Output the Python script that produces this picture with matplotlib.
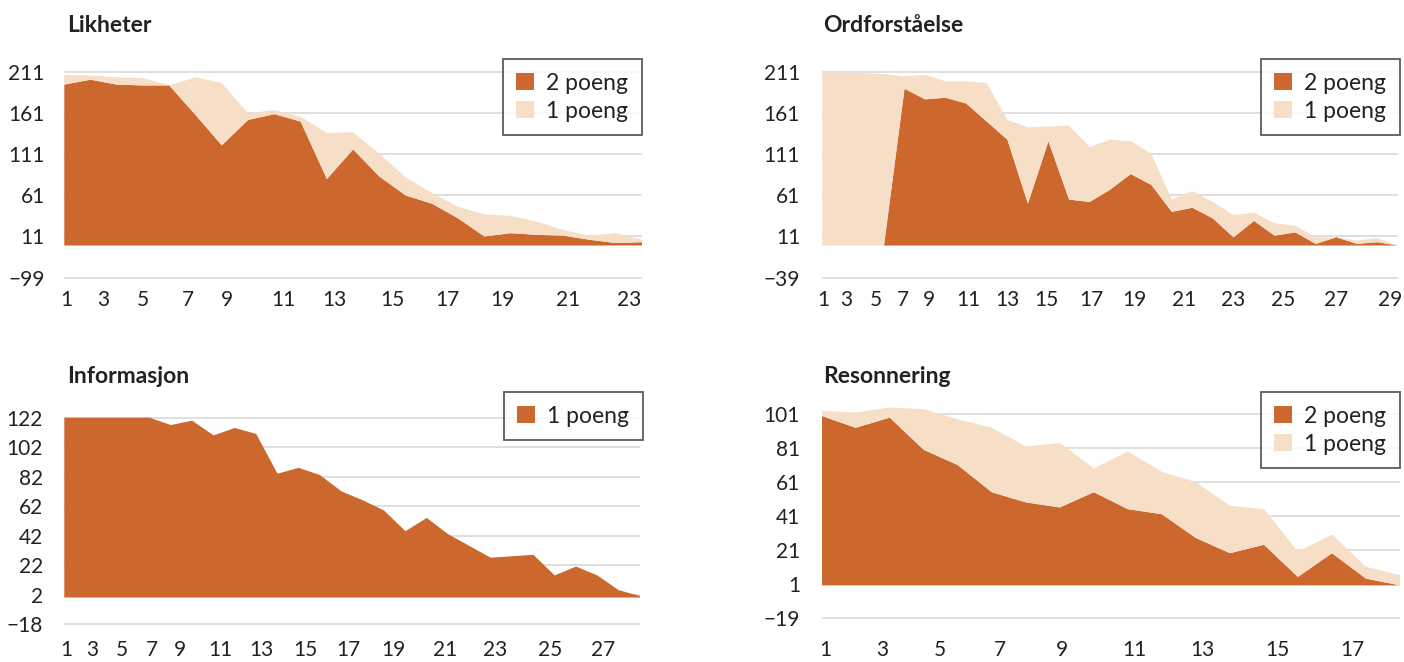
import matplotlib.pyplot as plt
import numpy as np

plt.rcParams['font.family'] = ['Lato', 'DejaVu Sans']

DARK = '#CC672D'
LIGHT = '#F7DEC7'
GRID = '#dcdcdc'
TXT = '#222222'

# Likheter (23 oppgaver)
lik_2p = [196, 202, 196, 195, 195, 159, 122, 153, 160, 151, 81, 117, 84, 61, 51, 33, 11, 15, 13, 12, 7, 3, 4]
lik_1p = [12, 5, 9, 9, 0, 46, 76, 8, 5, 6, 56, 21, 28, 22, 13, 14, 27, 21, 16, 7, 5, 12, 3]
lik_yticks = [211, 161, 111, 61, 11, -39]
lik_ylabels = ['211', '161', '111', '61', '11', '−99']
lik_xlabels = [str(i) for i in range(1, 24, 2)]

# Ordforståelse (29 oppgaver)
ord_2p = [0, 0, 0, 0, 191, 178, 180, 173, 151, 129, 51, 127, 56, 53, 68, 87, 74, 41, 46, 33, 10, 30, 12, 16, 2, 10, 2, 4, 0]
ord_1p = [211, 211, 210, 209, 15, 30, 20, 27, 47, 24, 93, 18, 90, 67, 61, 40, 38, 15, 20, 20, 27, 10, 15, 8, 8, 0, 4, 5, 0]
ord_yticks = [211, 161, 111, 61, 11, -39]
ord_ylabels = ['211', '161', '111', '61', '11', '−39']
ord_xlabels = [str(i) for i in range(1, 30, 2)]

# Informasjon (28 oppgaver)
inf_1p = [122, 122, 122, 122, 122, 117, 120, 110, 115, 111, 84, 88, 83, 72, 66, 59, 45, 54, 43, 35, 27, 28, 29, 15, 21, 15, 5, 1]
inf_yticks = [122, 102, 82, 62, 42, 22, 2, -18]
inf_ylabels = ['122', '102', '82', '62', '42', '22', '2', '−18']
inf_xlabels = [str(i) for i in range(1, 28, 2)]

# Resonnering (18 oppgaver)
res_2p = [100, 93, 99, 80, 71, 55, 49, 46, 55, 45, 42, 28, 19, 24, 5, 19, 4, 0]
res_1p = [3, 9, 6, 24, 27, 38, 33, 38, 14, 34, 25, 33, 28, 21, 15, 11, 7, 6]
res_yticks = [101, 81, 61, 41, 21, 1, -19]
res_ylabels = ['101', '81', '61', '41', '21', '1', '−19']
res_xlabels = [str(i) for i in range(1, 18, 2)]

# plassering av x-etikettene (som i originalen, ikke helt under punktene)
lik_xpos = [1.06, 2.47, 4.0, 5.7, 7.2, 9.33, 11.27, 13.5, 15.6, 17.7, 20.2, 22.5]
ord_xpos = [1.05, 2.15, 3.6, 4.9, 6.2, 8.1, 10.0, 11.9, 14.1, 16.2, 18.6, 21.0, 23.4, 26.0, 28.6]
inf_xpos = [1.08, 2.29, 3.69, 5.1, 6.43, 8.3, 10.26, 12.29, 14.32, 16.43, 18.85, 21.2, 23.78, 26.28]
res_xpos = [1.1, 2.77, 4.48, 6.24, 8.05, 10.2, 12.2, 14.4, 16.6]

W, H = 1404, 662
fig = plt.figure(figsize=(W / 100, H / 100), dpi=100)


def make_ax(x0, x1, y0, y1):
    return fig.add_axes([x0 / W, 1 - y1 / H, (x1 - x0) / W, (y1 - y0) / H])


def style(ax, n, ylim, yticks, ylabels, xpos, xlabels, xpad, ypad):
    ax.set_xlim(1, n)
    ax.set_ylim(*ylim)
    ax.set_yticks(yticks)
    ax.set_yticklabels(ylabels)
    ax.set_xticks(xpos)
    ax.set_xticklabels(xlabels)
    for s in ax.spines.values():
        s.set_visible(False)
    ax.tick_params(axis='both', length=0, labelsize=15, colors=TXT)
    ax.tick_params(axis='x', pad=xpad)
    ax.tick_params(axis='y', pad=ypad)
    ax.set_axisbelow(True)
    ax.grid(axis='y', color=GRID, linewidth=1.3)
    ax.grid(axis='x', visible=False)


def legend(ax, x_right, y_top):
    leg = ax.legend(loc='upper right', bbox_to_anchor=(x_right / W, 1 - y_top / H),
                    bbox_transform=fig.transFigure, borderaxespad=0,
                    fontsize=16.5, frameon=True, fancybox=False, edgecolor='#333333',
                    handlelength=0.75, handleheight=0.75, handletextpad=0.55,
                    labelspacing=0.3, borderpad=0.6)
    leg.get_frame().set_linewidth(1.3)
    for t in leg.get_texts():
        t.set_color(TXT)


# Likheter
ax1 = make_ax(64.3, 642, 60, 280)
x = np.arange(1, len(lik_2p) + 1)
ax1.stackplot(x, lik_2p, lik_1p, colors=[DARK, LIGHT], labels=['2 poeng', '1 poeng'], linewidth=0)
style(ax1, len(lik_2p), (-42, 226), lik_yticks, lik_ylabels, lik_xpos, lik_xlabels, 7.5, 14)
legend(ax1, 642, 59)

# Ordforståelse
ax2 = make_ax(822.3, 1398, 60, 280)
x = np.arange(1, len(ord_2p) + 1)
ax2.stackplot(x, ord_2p, ord_1p, colors=[DARK, LIGHT], labels=['2 poeng', '1 poeng'], linewidth=0)
style(ax2, len(ord_2p), (-42, 226), ord_yticks, ord_ylabels, ord_xpos, ord_xlabels, 7.5, 16)
legend(ax2, 1400, 59)

# Informasjon
ax3 = make_ax(64.3, 640, 400, 627)
x = np.arange(1, len(inf_1p) + 1)
ax3.stackplot(x, inf_1p, colors=[DARK], labels=['1 poeng'], linewidth=0)
style(ax3, len(inf_1p), (-20, 134), inf_yticks, inf_ylabels, inf_xpos, inf_xlabels, 9.5, 15.5)
legend(ax3, 643, 392)

# Resonnering
ax4 = make_ax(821.7, 1400, 400, 620)
x = np.arange(1, len(res_2p) + 1)
ax4.stackplot(x, res_2p, res_1p, colors=[DARK, LIGHT], labels=['2 poeng', '1 poeng'], linewidth=0)
style(ax4, len(res_2p), (-20.4, 109.4), res_yticks, res_ylabels, res_xpos, res_xlabels, 14.5, 15.6)
legend(ax4, 1400, 392)

for tx, ty, s in [(67, 25, 'Likheter'), (823, 25, 'Ordforståelse'),
                  (67, 376, 'Informasjon'), (823, 376, 'Resonnering')]:
    fig.text(tx / W, 1 - ty / H, s, fontsize=16.5, fontweight='bold', color=TXT,
             ha='left', va='center')

fig.savefig('out.png', dpi=100, facecolor='white')
